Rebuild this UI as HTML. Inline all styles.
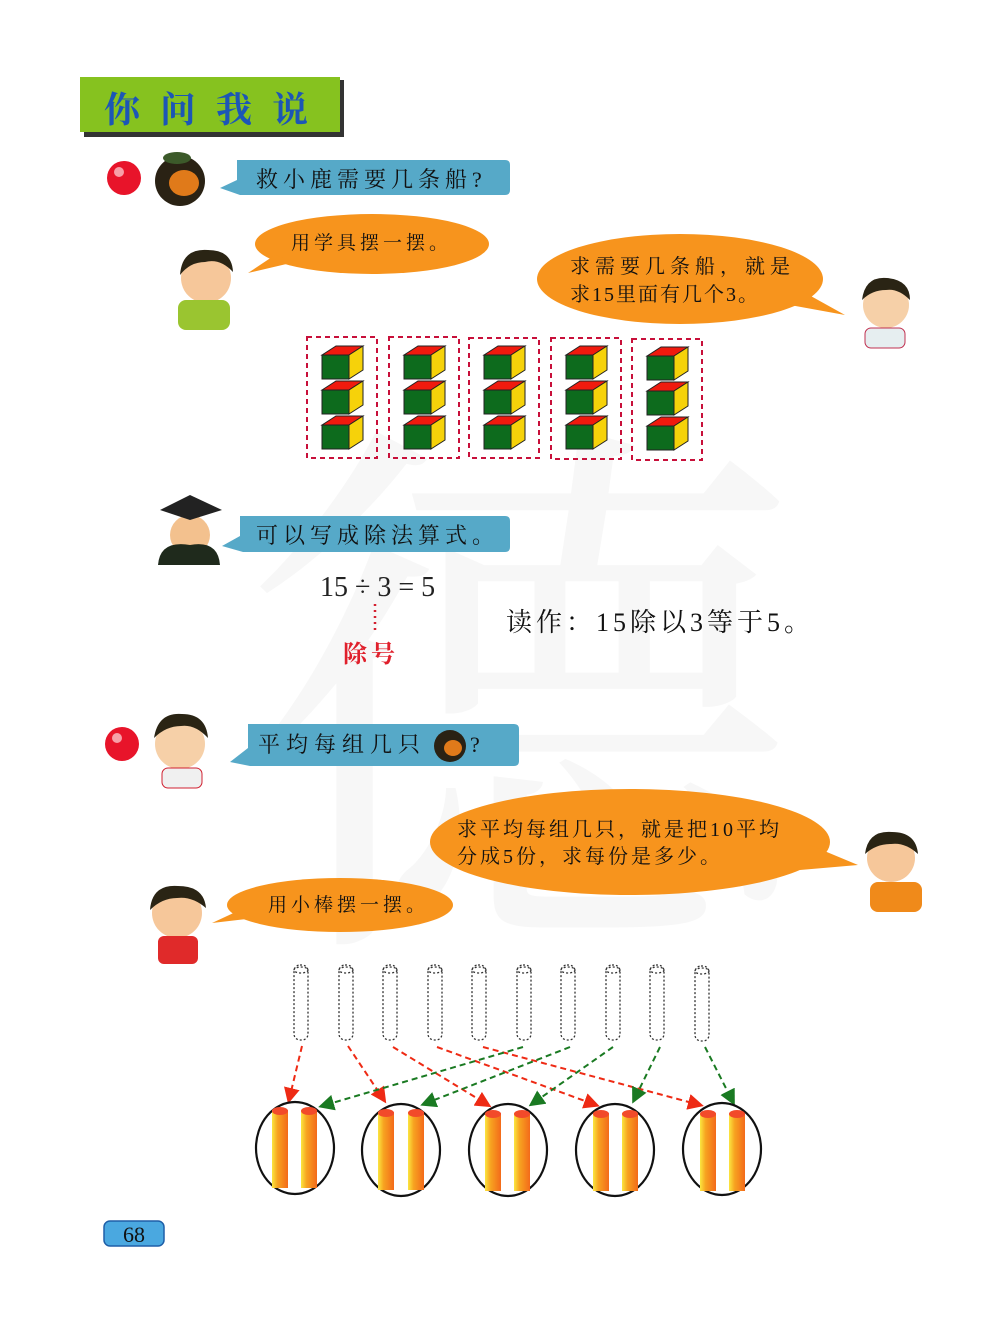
<!DOCTYPE html>
<html><head><meta charset="utf-8"><style>
body{margin:0;background:#fff}
svg{display:block}
text{font-family:"Liberation Serif","Noto Serif CJK SC","Noto Sans CJK SC",serif}
</style></head><body>
<svg width="1000" height="1336" viewBox="0 0 1000 1336" xmlns="http://www.w3.org/2000/svg">
<defs>
<g id="cube">
<polygon points="0,9 27,9 27,33 0,33" fill="#0d6b1d" stroke="#222" stroke-width="1"/>
<polygon points="0,9 14,0 41,0 27,9" fill="#f01a0e" stroke="#222" stroke-width="1"/>
<polygon points="27,9 41,0 41,24 27,33" fill="#f6d20a" stroke="#222" stroke-width="1"/>
</g>
<g id="stick">
<rect x="-7" y="0" width="14" height="75" rx="6" fill="none" stroke="#333" stroke-width="1.3" stroke-dasharray="2,2"/>
<ellipse cx="0" cy="5" rx="7" ry="3" fill="none" stroke="#333" stroke-width="1.3" stroke-dasharray="2,2"/>
</g>
<linearGradient id="og" x1="0" x2="1"><stop offset="0" stop-color="#fbe640"/><stop offset="0.35" stop-color="#f7a320"/><stop offset="1" stop-color="#f36a1a"/></linearGradient>
<g id="rod">
<rect x="-8" y="0" width="16" height="78" fill="url(#og)"/>
<ellipse cx="0" cy="1" rx="8" ry="4" fill="#f24a2a"/>
</g>
<marker id="ar" markerWidth="8" markerHeight="8" refX="6" refY="4" orient="auto"><path d="M0,0 L8,4 L0,8z" fill="#ee2a14"/></marker>
<marker id="ag" markerWidth="8" markerHeight="8" refX="6" refY="4" orient="auto"><path d="M0,0 L8,4 L0,8z" fill="#1a7a22"/></marker>
</defs>

<!-- watermark -->
<text x="520" y="900" font-size="560" fill="#f7f7f7" text-anchor="middle" font-family="Noto Sans CJK SC,sans-serif">德</text>

<!-- header -->
<rect x="84" y="80" width="260" height="57" fill="#333"/>
<rect x="80" y="77" width="260" height="55" fill="#86c21f"/>
<text x="216" y="122" font-size="36" font-weight="bold" fill="#1c56b6" text-anchor="middle" letter-spacing="20" font-family="Noto Sans CJK SC,sans-serif">你问我说</text>

<!-- red ball 1 -->
<circle cx="124" cy="178" r="17" fill="#e8142a"/><circle cx="119" cy="172" r="5" fill="#f7a0a8"/>
<!-- lion -->
<circle cx="180" cy="181" r="25" fill="#2a2214"/><ellipse cx="184" cy="183" rx="15" ry="13" fill="#e07a1a"/><ellipse cx="177" cy="158" rx="14" ry="6" fill="#3c5a2a"/>
<!-- bubble 1 -->
<path d="M237,160 H505 Q510,160 510,165 V190 Q510,195 505,195 H240 L220,188 L237,180 Z" fill="#56a9c8"/>
<text x="256" y="187" font-size="22" fill="#111" letter-spacing="5">救小鹿需要几条船?</text>

<!-- boy 1 -->
<circle cx="206" cy="278" r="25" fill="#f6c79a"/><path d="M180,275 Q182,248 208,250 Q232,250 233,272 Q220,258 205,262 Q190,262 180,275z" fill="#2a2414"/>
<rect x="178" y="300" width="52" height="30" rx="8" fill="#9ac530"/>
<!-- orange bubble 1 -->
<ellipse cx="372" cy="244" rx="117" ry="30" fill="#f7941d"/>
<path d="M275,255 L248,273 L295,262z" fill="#f7941d"/>
<text x="291" y="249" font-size="19" fill="#111" letter-spacing="4">用学具摆一摆。</text>

<!-- girl bubble -->
<ellipse cx="680" cy="279" rx="143" ry="45" fill="#f7941d"/>
<path d="M800,290 L845,315 L790,305z" fill="#f7941d"/>
<text x="570" y="273" font-size="20" fill="#111" letter-spacing="5">求需要几条船，就是</text>
<text x="570" y="301" font-size="20" fill="#111" letter-spacing="2">求15里面有几个3。</text>
<!-- girl -->
<circle cx="886" cy="305" r="23" fill="#f6d0a8"/><path d="M862,300 Q865,276 887,278 Q910,280 910,300 Q898,288 886,290 Q872,290 862,300z" fill="#2a2414"/>
<rect x="865" y="328" width="40" height="20" rx="6" fill="#e6eef0" stroke="#c03050"/>

<!-- dashed boxes -->
<g fill="none" stroke="#c8103a" stroke-width="2" stroke-dasharray="5,4">
<rect x="307" y="337" width="70" height="121"/>
<rect x="389" y="337" width="70" height="121"/>
<rect x="469" y="338" width="70" height="120"/>
<rect x="551" y="338" width="70" height="121"/>
<rect x="632" y="339" width="70" height="121"/>
</g>
<use href="#cube" x="322" y="346"/><use href="#cube" x="322" y="381"/><use href="#cube" x="322" y="416"/>
<use href="#cube" x="404" y="346"/><use href="#cube" x="404" y="381"/><use href="#cube" x="404" y="416"/>
<use href="#cube" x="484" y="346"/><use href="#cube" x="484" y="381"/><use href="#cube" x="484" y="416"/>
<use href="#cube" x="566" y="346"/><use href="#cube" x="566" y="381"/><use href="#cube" x="566" y="416"/>
<use href="#cube" x="647" y="347"/><use href="#cube" x="647" y="382"/><use href="#cube" x="647" y="417"/>

<!-- doctor -->
<circle cx="190" cy="535" r="20" fill="#f3c18e"/><polygon points="160,510 190,495 222,510 190,520" fill="#222"/>
<path d="M158,565 Q160,540 190,545 Q218,540 220,565z" fill="#1f2a1c"/>
<!-- bubble blue 2 -->
<path d="M240,516 H505 Q510,516 510,521 V547 Q510,552 505,552 H243 L222,546 L240,536 Z" fill="#56a9c8"/>
<text x="256" y="543" font-size="22" fill="#111" letter-spacing="5">可以写成除法算式。</text>

<text x="320" y="596" font-size="28" fill="#222" font-family="Liberation Sans,sans-serif">15 ÷ 3 = 5</text>
<line x1="375" y1="604" x2="375" y2="632" stroke="#d42030" stroke-width="2.5" stroke-dasharray="2,4"/>
<text x="343" y="662" font-size="24" fill="#e0202c" font-weight="bold" font-family="Noto Sans CJK SC,sans-serif" letter-spacing="4">除号</text>
<text x="506" y="631" font-size="26" fill="#111" letter-spacing="4">读作：15除以3等于5。</text>

<!-- red ball 2 -->
<circle cx="122" cy="744" r="17" fill="#e8142a"/><circle cx="117" cy="738" r="5" fill="#f7a0a8"/>
<!-- girl 2 -->
<circle cx="180" cy="744" r="25" fill="#f6d0a8"/><path d="M154,738 Q158,712 182,714 Q206,714 208,738 Q195,724 181,726 Q166,726 154,738z" fill="#2a2414"/>
<rect x="162" y="768" width="40" height="20" rx="6" fill="#f0f0f0" stroke="#d02030"/>
<!-- bubble blue 3 -->
<path d="M248,724 H514 Q519,724 519,729 V761 Q519,766 514,766 H250 L230,762 L248,748 Z" fill="#56a9c8"/>
<text x="258" y="752" font-size="22" fill="#111" letter-spacing="6">平均每组几只</text>
<circle cx="450" cy="746" r="16" fill="#2a2214"/><ellipse cx="453" cy="748" rx="9" ry="8" fill="#e07a1a"/>
<text x="470" y="752" font-size="22" fill="#111">?</text>

<!-- big orange bubble -->
<ellipse cx="630" cy="842" rx="200" ry="53" fill="#f7941d"/>
<path d="M810,845 L858,865 L800,870z" fill="#f7941d"/>
<text x="457" y="836" font-size="20" fill="#111" letter-spacing="3">求平均每组几只，就是把10平均</text>
<text x="457" y="863" font-size="20" fill="#111" letter-spacing="3">分成5份，求每份是多少。</text>
<!-- boy right -->
<circle cx="891" cy="858" r="24" fill="#f6c79a"/><path d="M865,854 Q868,830 892,832 Q916,832 918,854 Q905,842 891,844 Q876,844 865,854z" fill="#2a2414"/>
<rect x="870" y="882" width="52" height="30" rx="8" fill="#f08a1a"/>

<!-- boy left 2 -->
<circle cx="177" cy="913" r="25" fill="#f6c79a"/><path d="M150,910 Q152,884 178,886 Q204,886 206,908 Q192,896 177,898 Q162,898 150,910z" fill="#2a2414"/>
<rect x="158" y="936" width="40" height="28" rx="6" fill="#e02a2a"/>
<ellipse cx="340" cy="905" rx="113" ry="27" fill="#f7941d"/>
<path d="M240,910 L212,923 L255,918z" fill="#f7941d"/>
<text x="268" y="911" font-size="19" fill="#111" letter-spacing="4">用小棒摆一摆。</text>

<!-- sticks -->
<use href="#stick" x="301" y="965"/><use href="#stick" x="346" y="965"/><use href="#stick" x="390" y="965"/>
<use href="#stick" x="435" y="965"/><use href="#stick" x="479" y="965"/><use href="#stick" x="524" y="965"/>
<use href="#stick" x="568" y="965"/><use href="#stick" x="613" y="965"/><use href="#stick" x="657" y="965"/>
<use href="#stick" x="702" y="966"/>

<!-- arrows -->
<g stroke-width="2" stroke-dasharray="6,4" fill="none">
<line x1="302" y1="1046" x2="289" y2="1100" stroke="#ee2a14" marker-end="url(#ar)"/>
<line x1="348" y1="1046" x2="384" y2="1100" stroke="#ee2a14" marker-end="url(#ar)"/>
<line x1="393" y1="1047" x2="488" y2="1105" stroke="#ee2a14" marker-end="url(#ar)"/>
<line x1="437" y1="1047" x2="596" y2="1105" stroke="#ee2a14" marker-end="url(#ar)"/>
<line x1="483" y1="1047" x2="700" y2="1105" stroke="#ee2a14" marker-end="url(#ar)"/>
<line x1="523" y1="1047" x2="322" y2="1106" stroke="#1a7a22" marker-end="url(#ag)"/>
<line x1="570" y1="1047" x2="424" y2="1104" stroke="#1a7a22" marker-end="url(#ag)"/>
<line x1="613" y1="1047" x2="532" y2="1104" stroke="#1a7a22" marker-end="url(#ag)"/>
<line x1="660" y1="1047" x2="634" y2="1100" stroke="#1a7a22" marker-end="url(#ag)"/>
<line x1="705" y1="1047" x2="733" y2="1102" stroke="#1a7a22" marker-end="url(#ag)"/>
</g>

<!-- ellipses and rods -->
<g fill="none" stroke="#111" stroke-width="2.2">
<ellipse cx="295" cy="1148" rx="39" ry="46"/>
<ellipse cx="401" cy="1150" rx="39" ry="46"/>
<ellipse cx="508" cy="1150" rx="39" ry="46"/>
<ellipse cx="615" cy="1150" rx="39" ry="46"/>
<ellipse cx="722" cy="1149" rx="39" ry="46"/>
</g>
<use href="#rod" x="280" y="1110"/><use href="#rod" x="309" y="1110"/>
<use href="#rod" x="386" y="1112"/><use href="#rod" x="416" y="1112"/>
<use href="#rod" x="493" y="1113"/><use href="#rod" x="522" y="1113"/>
<use href="#rod" x="601" y="1113"/><use href="#rod" x="630" y="1113"/>
<use href="#rod" x="708" y="1113"/><use href="#rod" x="737" y="1113"/>

<!-- page number -->
<rect x="104" y="1221" width="60" height="25" rx="6" fill="#4aa8e0" stroke="#1e5fa8" stroke-width="1.5"/>
<text x="134" y="1242" font-size="22" fill="#111" text-anchor="middle">68</text>
</svg>
</body></html>
